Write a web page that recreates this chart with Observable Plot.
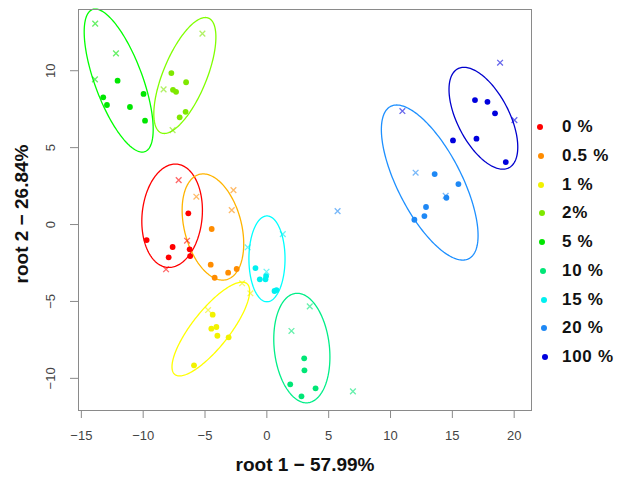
<!DOCTYPE html>
<html>
<head>
<meta charset="utf-8">
<script src="https://cdn.jsdelivr.net/npm/d3@7"></script>
<script src="https://cdn.jsdelivr.net/npm/@observablehq/plot@0.6"></script>
<style>
  html, body { margin: 0; padding: 0; background: #fff; }
  #wrap { position: relative; width: 619px; height: 479px; overflow: hidden; }
  #legend { position: absolute; left: 0; top: 0; font-family: "Liberation Sans", Arial, sans-serif; font-weight: bold; font-size: 17px; color: #111; }
  .item { position: absolute; height: 20px; line-height: 20px; white-space: nowrap; letter-spacing: 0.7px; }
  .sw { position: absolute; width: 6px; height: 6px; border-radius: 50%; }
</style>
</head>
<body>
<div id="wrap"><div id="legend"></div></div>
<script>
// ---- data ----
const groups = ["0 %", "0.5 %", "1 %", "2%", "5 %", "10 %", "15 %", "20 %", "100 %"];
const dotColors = ["#FF0000", "#FF8C00", "#F2F200", "#7FE800", "#00E600", "#00E676", "#00F0F0", "#1E88F5", "#0000DD"];
const ellipseColors = ["#FF0000", "#FFB400", "#FFFF00", "#80FF00", "#00FF00", "#00EE88", "#00FFFF", "#1E90FF", "#0000CD"];

// filled points (x, y) per group
const dots0   = [[-6.35, 0.73], [-9.72, -1.01], [-7.62, -1.46], [-7.94, -2.13], [-6.24, -1.61], [-6.20, -2.05]];
const dots05  = [[-4.46, -0.29], [-4.54, -2.61], [-4.22, -3.46], [-3.13, -3.13], [-2.44, -2.89]];
const dots1   = [[-4.38, -5.86], [-4.49, -6.77], [-4.08, -6.66], [-4.00, -7.23], [-3.09, -7.33], [-5.89, -9.15]];
const dots2   = [[-7.72, 9.85], [-6.53, 9.25], [-7.59, 8.76], [-7.34, 8.63], [-6.57, 7.33], [-7.05, 6.97]];
const dots5   = [[-12.07, 9.35], [-13.23, 8.27], [-12.93, 7.77], [-11.07, 7.64], [-9.97, 8.49], [-9.85, 6.75]];
const dots10  = [[3.02, -8.70], [3.04, -9.48], [1.89, -10.39], [3.94, -10.65], [2.80, -11.17]];
const dots15  = [[-0.92, -2.83], [-0.57, -3.56], [-0.11, -3.56], [-0.06, -3.35], [0.62, -4.32], [0.78, -4.26]];
const dots20  = [[13.57, 3.28], [15.49, 2.63], [12.87, 1.14], [12.74, 0.55], [11.93, 0.31], [14.52, 1.74]];
const dots100 = [[16.83, 8.09], [17.84, 7.98], [18.45, 7.23], [16.95, 5.58], [15.05, 5.47], [19.32, 4.06]];

// cross-marked points (x, y) per group
const cross0   = [[-7.13, 2.89], [-6.45, -1.05], [-8.15, -2.91]];
const cross05  = [[-5.70, 1.81], [-2.70, 2.24], [-2.84, 0.94]];
const cross1   = [[-2.00, -3.82], [-1.33, -4.47], [-4.75, -5.56]];
const cross2   = [[-5.21, 12.41], [-8.35, 8.79], [-7.62, 6.14]];
const cross5   = [[-13.88, 13.06], [-12.20, 11.13], [-13.90, 9.44]];
const cross10  = [[3.47, -5.32], [1.99, -6.92], [6.96, -10.85]];
const cross15  = [[1.29, -0.62], [-1.55, -1.48], [-0.03, -3.07]];
const cross20  = [[12.03, 3.37], [14.46, 1.87], [5.72, 0.87]];
const cross100 = [[10.96, 7.38], [18.86, 10.52], [20.02, 6.79]];

// ellipses: centre, half height, half width, x offset of topmost point (data units)
const ellipseCx   = [-7.66, -4.36, -4.53, -6.63, -11.98, 2.83, 0.01, 13.17, 17.51];
const ellipseCy   = [0.57, -0.16, -6.79, 9.69, 9.36, -8.03, -2.23, 2.73, 6.91];
const ellipseH    = [3.36, 3.45, 3.05, 3.77, 4.65, 3.56, 2.79, 5.04, 3.31];
const ellipseW    = [2.45, 2.49, 3.14, 2.51, 2.79, 2.27, 1.46, 3.91, 2.78];
const ellipseTopDx = [0.26, -0.79, 2.53, 1.66, -1.90, -0.37, 0.0, -2.67, -1.57];

const xTicks = [-15, -10, -5, 0, 5, 10, 15, 20];
const yTicks = [-10, -5, 0, 5, 10];
const xTitle = "root 1 \u2212 57.99%";
const yTitle = "root 2 \u2212 26.84%";

// ---- build tables ----
const dotSets = [dots0, dots05, dots1, dots2, dots5, dots10, dots15, dots20, dots100];
const crossSets = [cross0, cross05, cross1, cross2, cross5, cross10, cross15, cross20, cross100];
const dotRows = dotSets.flatMap((s, g) => s.map(([x, y]) => ({x, y, c: dotColors[g]})));
const crossRows = crossSets.flatMap((s, g) => s.map(([x, y]) => ({x, y, c: dotColors[g]})));
const ellipseRows = [];
groups.forEach((g, i) => {
  const w0 = Math.sqrt(Math.max(0, ellipseW[i] ** 2 - ellipseTopDx[i] ** 2));
  for (let k = 0; k <= 180; k++) {
    const t = (k / 180) * 2 * Math.PI;
    ellipseRows.push({
      g,
      c: ellipseColors[i],
      x: ellipseCx[i] + ellipseTopDx[i] * Math.cos(t) + w0 * Math.sin(t),
      y: ellipseCy[i] + ellipseH[i] * Math.cos(t)
    });
  }
});

const fmt = d => (d < 0 ? "\u2212" + (-d) : String(d));

const chart = Plot.plot({
  width: 619,
  height: 479,
  marginLeft: 78,
  marginRight: 88,
  marginTop: 9,
  marginBottom: 69,
  x: {domain: [-15.23, 21.4]},
  y: {domain: [-12.09, 13.98]},
  color: {type: "identity"},
  style: {fontFamily: "'Liberation Sans', Arial, sans-serif", background: "transparent", overflow: "visible"},
  marks: [
    Plot.line(ellipseRows, {x: "x", y: "y", z: "g", stroke: "c", strokeWidth: 1.3}),
    Plot.dot(dotRows, {x: "x", y: "y", fill: "c", r: 2.9, stroke: "none"}),
    Plot.dot(crossRows, {x: "x", y: "y", stroke: "c", symbol: "times", r: 2.7, strokeWidth: 1.3, strokeOpacity: 0.6}),
    Plot.frame({stroke: "#8a8a8a", strokeWidth: 1}),
    Plot.axisX({ticks: xTicks, tickSize: 8, tickPadding: 12, tickFormat: fmt, label: null, fontSize: 13, stroke: "#8a8a8a", fill: "#444"}),
    Plot.axisY({ticks: yTicks, tickSize: 8, tickFormat: () => "", label: null, stroke: "#8a8a8a"}),
    Plot.text(yTicks, {y: d => d, text: fmt, frameAnchor: "left", textAnchor: "middle", rotate: -90, dx: -28, fontSize: 13, fill: "#444"}),
    Plot.text([xTitle], {frameAnchor: "bottom", textAnchor: "middle", dy: 60, fontSize: 19, fontWeight: "bold", fill: "#111"}),
    Plot.text([yTitle], {frameAnchor: "left", textAnchor: "middle", rotate: -90, dx: -57, dy: 4, fontSize: 19, fontWeight: "bold", fill: "#111"})
  ]
});

const wrap = document.getElementById("wrap");
wrap.insertBefore(chart, wrap.firstChild);

// legend (HTML)
const legend = document.getElementById("legend");
groups.forEach((g, i) => {
  const cy = 127 + i * 28.75;
  const sw = document.createElement("div");
  sw.className = "sw";
  sw.style.left = (537 + i * 0.6) + "px";
  sw.style.top = (cy - 3) + "px";
  sw.style.background = dotColors[i];
  legend.appendChild(sw);
  const it = document.createElement("div");
  it.className = "item";
  it.style.left = "562px";
  it.style.top = (cy - 10) + "px";
  it.textContent = g;
  legend.appendChild(it);
});
</script>
</body>
</html>
